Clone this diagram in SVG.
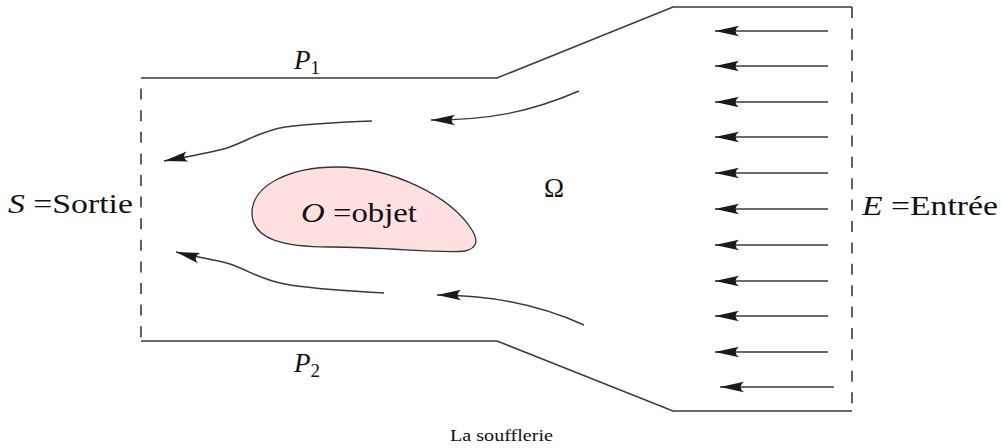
<svg xmlns="http://www.w3.org/2000/svg" width="1002" height="448" viewBox="0 0 1002 448">
<defs><marker id="a" markerUnits="userSpaceOnUse" markerWidth="26" markerHeight="12" refX="0" refY="6" orient="auto" viewBox="0 0 26 12"><path d="M0 6 L24 0.8 Q17 6 24 11.2 Z" fill="#1a1a1a"/></marker></defs>
<style>
.l{fill:none;stroke:#3a3a3a;stroke-width:1.6}
.s{fill:none;stroke:#3a3a3a;stroke-width:1.5;marker-start:url(#a)}
text{font-family:"Liberation Serif",serif;fill:#111;font-size:27px}
.i{font-style:italic}
</style>
<rect width="1002" height="448" fill="#fff"/>
<g id="connectors">
<path class="l" d="M141 78H497L673 7H852"/>
<path class="l" d="M141 341H497L673 411H852"/>
<path class="l" stroke-dasharray="11 10.6" stroke-dashoffset="11" d="M141 78V341"/>
<path class="l" stroke-dasharray="11 10.4" d="M852 7V411"/>
<path class="s" d="M715 31H828"/><path class="s" d="M715 66H828"/><path class="s" d="M715 102H828"/><path class="s" d="M715 137H828"/><path class="s" d="M715 173H828"/><path class="s" d="M715 209H828"/><path class="s" d="M715 245H828"/><path class="s" d="M715 281H828"/><path class="s" d="M715 316H828"/><path class="s" d="M715 352H828"/><path class="s" d="M720 387H834"/>
<path class="s" d="M431 120C490 120 530 112 579 91"/>
<path class="s" d="M164 161C185 157 210 153 227 148C250 140 258 132 285 127C310 124 345 122 372 121"/>
<path class="s" d="M176 252C195 257 212 259 230 264C252 272 262 280 285 284C310 289 350 291 384 293"/>
<path class="s" d="M437 295C490 295 540 305 584 325"/>
</g>
<g id="object"><path d="M252 213C252 185 290 167 337 167C390 167 450 195 472 230C478 240 478 248 465 251C440 254 390 247 330 247C285 247 252 240 252 213Z" fill="#ffe0e0" stroke="#333" stroke-width="1.3"/>
<text x="301" y="222" textLength="116" lengthAdjust="spacingAndGlyphs"><tspan class="i">O</tspan> =objet</text></g>
<g id="labels">
<text x="294" y="69" class="i">P<tspan font-size="19" dy="5" font-style="normal">1</tspan></text>
<text x="294" y="372" class="i">P<tspan font-size="19" dy="5" font-style="normal">2</tspan></text>
<text x="544" y="197">Ω</text>
<text x="8" y="213" textLength="125" lengthAdjust="spacingAndGlyphs"><tspan class="i">S</tspan> =Sortie</text>
<text x="862" y="215" textLength="136" lengthAdjust="spacingAndGlyphs"><tspan class="i">E</tspan> =Entrée</text>
<text x="450" y="441" style="font-size:16.5px" textLength="103" lengthAdjust="spacingAndGlyphs">La soufflerie</text>
</g>
</svg>
